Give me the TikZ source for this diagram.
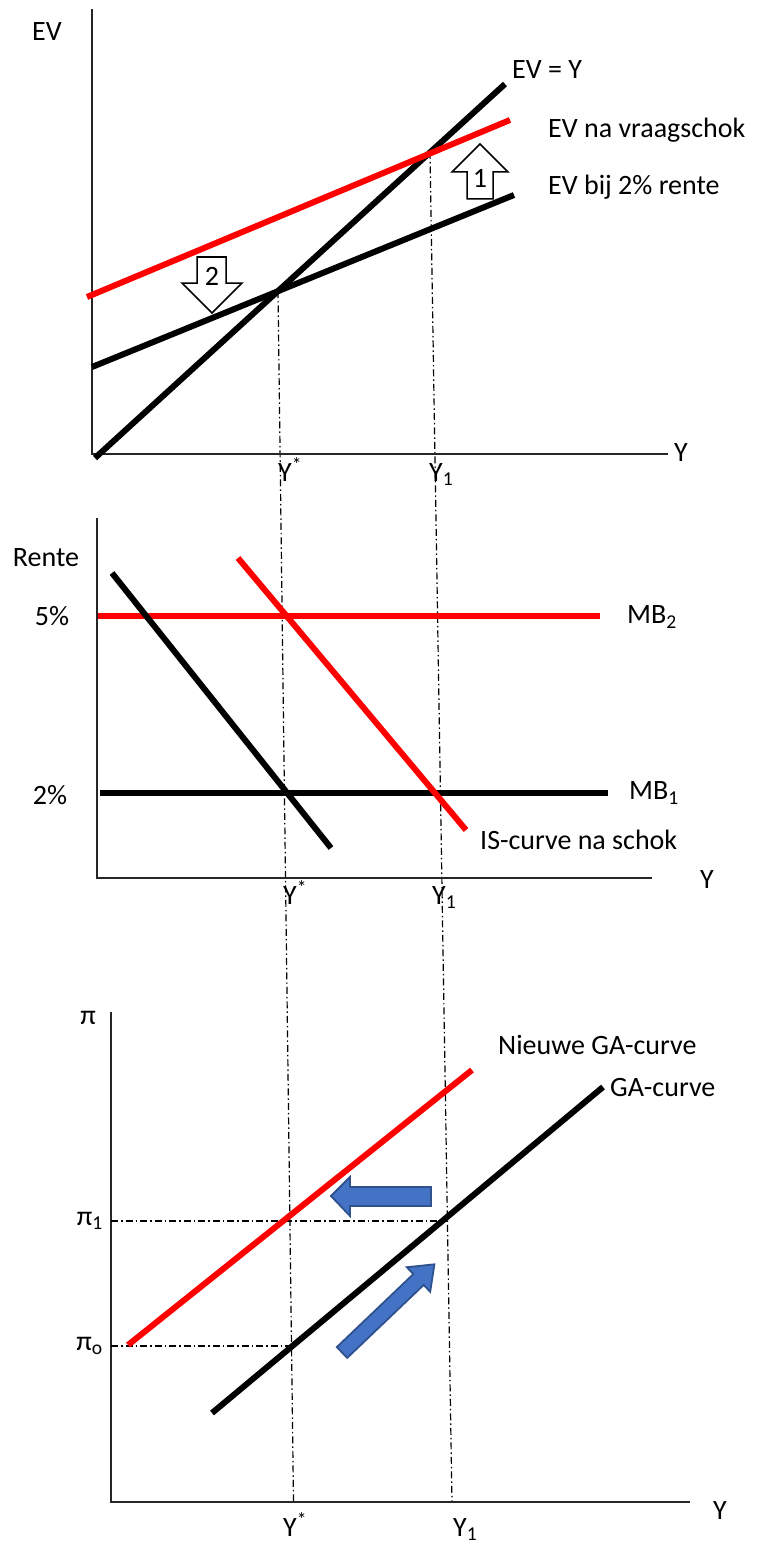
\documentclass[tikz,border=0pt]{standalone}
\usepackage{fontspec}
\setmainfont{Carlito}
\definecolor{blueA}{RGB}{68,114,196}
\definecolor{bluedark}{RGB}{47,82,143}
\begin{document}
\begin{tikzpicture}[x=1pt,y=-1pt,
 axis/.style={line width=1.5pt, black!85},
 curve/.style={line width=6pt, black},
 redcurve/.style={line width=6pt, red},
 guide/.style={line width=1.2pt, dash pattern=on 7pt off 3pt on 1.5pt off 3pt},
 lbl/.style={inner sep=0pt, font=\fontsize{28}{32}\selectfont},
 blockarrow/.style={draw=black, line width=1.5pt, fill=white, line join=miter},
 bluearrow/.style={draw=bluedark, line width=1.8pt, fill=blueA, line join=miter}]
\useasboundingbox (0,0) rectangle (757,1546);

% ---------- guide lines (dash-dot) ----------
\coordinate (ysTop) at (278,291);
\coordinate (ysBot) at (293.5,1502);
\coordinate (y1Top) at (430,152);
\coordinate (y1Bot) at (452,1502);
\draw[guide] (ysTop) -- (ysBot);
\draw[guide] (y1Top) -- (y1Bot);

% ---------- top panel ----------
\draw[axis] (92,9) -- (92,454) -- (668,454);
\node[lbl] (evlab) at (47,32) {EV};
\node[lbl] (yT) at (681,453) {Y};
\draw[curve] (95,458) -- (505,84);
\draw[redcurve] (87,297) -- (510,120);
\draw[curve] (92,367) -- (514,195);
\node[lbl, anchor=west] (lEVY) at (512,70) {EV = Y};
\node[lbl, anchor=west] (lEVna) at (548,130) {EV na vraagschok};
\node[lbl, anchor=west] (lEVbij) at (548,187) {EV bij 2\% rente};
\draw[blockarrow] (197,257) -- (226,257) -- (226,283) -- (242,283) -- (212,313) -- (182,283) -- (197,283) -- cycle;
\node[lbl] (n2) at (212,276) {2};
\draw[blockarrow] (467,199) -- (493,199) -- (493,172) -- (508,172) -- (480,144) -- (452,172) -- (467,172) -- cycle;
\node[lbl] (n1) at (480,178) {1};
\node[lbl, anchor=base west] (ysT) at (278,481) {Y\textsuperscript{*}};
\node[lbl, anchor=base west] (y1T) at (429,481) {Y\textsubscript{1}};

% ---------- middle panel ----------
\draw[axis] (97,518) -- (97,878) -- (652,878);
\node[lbl] (rente) at (46,558) {Rente};
\node[lbl] (p5) at (52,616) {5\%};
\node[lbl] (p2) at (50,795) {2\%};
\node[lbl] (yM) at (707,880) {Y};
\draw[redcurve] (98,616) -- (600,616);
\draw[curve] (100,793) -- (608,793);
\draw[curve] (112,573) -- (331,848);
\draw[redcurve] (238,558) -- (466,830);
\node[lbl, anchor=west] (mb2) at (627,617) {MB\textsubscript{2}};
\node[lbl, anchor=west] (mb1) at (629,793) {MB\textsubscript{1}};
\node[lbl, anchor=west] (isl) at (480,840) {IS-curve na schok};
\node[lbl, anchor=base west] (ysM) at (283,904) {Y\textsuperscript{*}};
\node[lbl, anchor=base west] (y1M) at (432,904) {Y\textsubscript{1}};

% ---------- bottom panel ----------
\draw[axis] (111,1012) -- (111,1502) -- (690,1502);
\node[lbl] (pi) at (88,1018) {π};
\node[lbl, anchor=east] (pi1) at (103,1221) {π\textsubscript{1}};
\node[lbl, anchor=east] (pio) at (103,1346) {π\textsubscript{o}};
\node[lbl] (yB) at (720,1510) {Y};
\draw[guide] (111,1221) -- (447,1221);
\draw[guide] (111,1346) -- (292.5,1346);
\draw[redcurve] (128,1345) -- (472,1070);
\draw[curve] (212,1413) -- (603,1087);
\node[lbl, anchor=west] (nga) at (498,1045) {Nieuwe GA-curve};
\node[lbl, anchor=west] (ga) at (610,1088) {GA-curve};
\node[lbl, anchor=base west] (ysB) at (283,1536) {Y\textsuperscript{*}};
\node[lbl, anchor=base west] (y1B) at (453,1536) {Y\textsubscript{1}};
\filldraw[bluearrow] (431,1187) -- (350,1187) -- (350,1177) -- (331,1196) -- (350,1216) -- (350,1206) -- (431,1206) -- cycle;
\filldraw[bluearrow] (347.2,1357.9) -- (336.8,1347.1) -- (413.3,1274.1) -- (406.8,1267.2) -- (434.4,1264.3) -- (430.2,1291.8) -- (423.7,1284.9) -- cycle;
\end{tikzpicture}
\end{document}
